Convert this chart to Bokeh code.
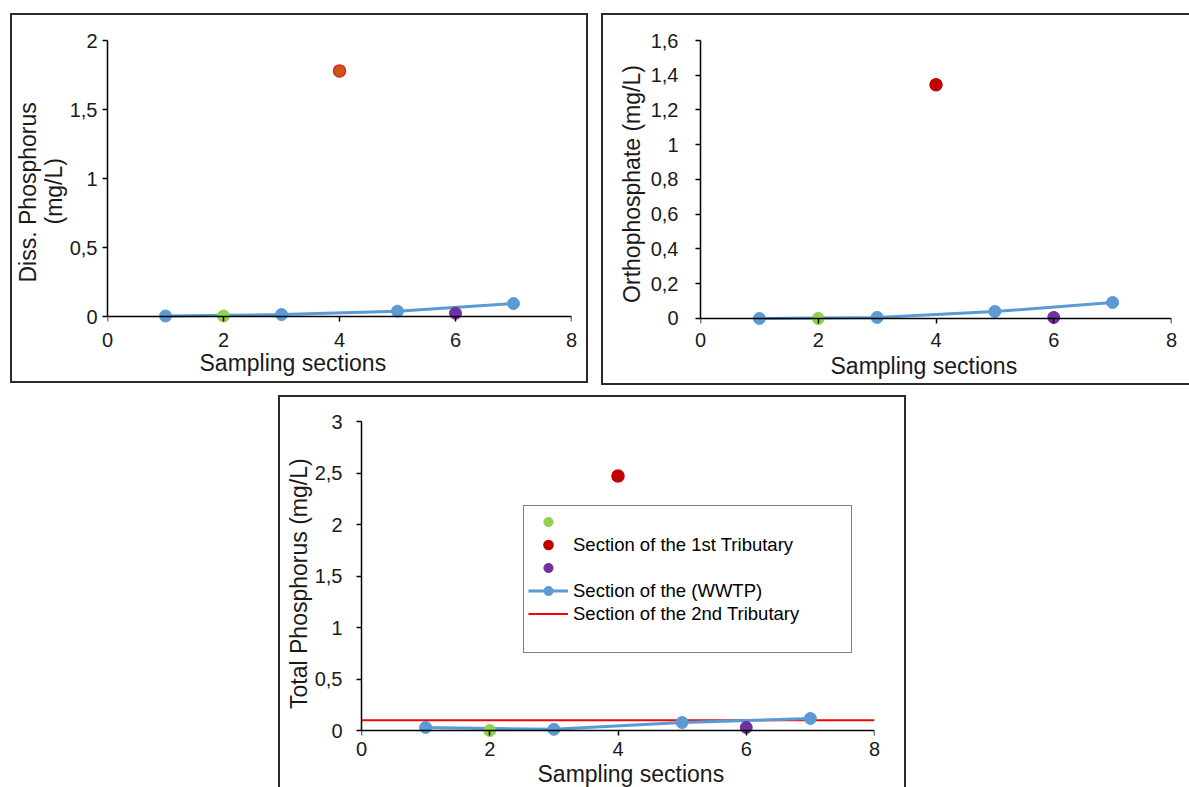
from bokeh.plotting import figure
from bokeh.models import (Range1d, FixedTicker, CustomJSTickFormatter, Legend, LegendItem,
                          LinearAxis, Title)
from bokeh.layouts import column, row
from bokeh.embed import file_html
from bokeh.resources import INLINE

# ---------------- data ----------------
x_ticks = [0, 2, 4, 6, 8]
main_sections = [1, 3, 5, 7]          # blue series (main river sections)
section_green = [2]
section_red = [4]
section_purple = [6]

diss_main = [0.005, 0.015, 0.04, 0.095]
diss_green = [0.005]
diss_red = [1.78]
diss_purple = [0.025]
diss_ticks = [0, 0.5, 1, 1.5, 2]

ortho_main = [0.0, 0.006, 0.04, 0.092]
ortho_green = [0.0]
ortho_red = [1.345]
ortho_purple = [0.006]
ortho_ticks = [0, 0.2, 0.4, 0.6, 0.8, 1.0, 1.2, 1.4, 1.6]

total_main = [0.03, 0.012, 0.078, 0.117]
total_green = [0.0]
total_red = [2.47]
total_purple = [0.03]
total_ticks = [0, 0.5, 1, 1.5, 2, 2.5, 3]
limit_x = [0, 8]
total_limit = [0.1, 0.1]

legend_texts = ["Section of the 1st Tributary", "Section of the (WWTP)", "Section of the 2nd Tributary"]

FONT = "Liberation Sans"
TXT = "#1a1a1a"
BLUE = "#5B9BD5"
GREEN = "#92D050"
PURPLE = "#7030A0"


def fmt():
    return CustomJSTickFormatter(code="return String(Math.round(tick*10)/10).replace('.', ',');")


def style_axis(ax):
    ax.axis_line_color = "black"
    ax.axis_line_width = 1.5
    ax.major_tick_line_color = "black"
    ax.major_tick_line_width = 1.5
    ax.major_tick_out = 5
    ax.major_tick_in = 0
    ax.minor_tick_line_color = None
    ax.major_label_text_font = FONT
    ax.major_label_text_font_size = "20px"
    ax.major_label_text_color = TXT
    ax.axis_label_text_font = FONT
    ax.axis_label_text_font_size = "23px"
    ax.axis_label_text_font_style = "normal"
    ax.axis_label_text_color = TXT
    ax.formatter = fmt()


def title(text, align, offset, standoff):
    return Title(text=text, align=align, offset=offset, standoff=standoff, text_font=FONT,
                 text_font_size="23px", text_font_style="normal", text_color=TXT)


def make_panel(w, h, bl, br, bt, bb, y_end, y_start, yticks, ylabel, y_standoff, y_lab_standoff,
               x_lab_standoff, title_offset, title_standoff, shadow):
    p = figure(width=w, height=h, x_range=Range1d(0, 8), y_range=Range1d(y_start, y_end),
               output_backend="svg", toolbar_location=None,
               min_border_left=bl, min_border_right=br, min_border_top=bt, min_border_bottom=bb)
    p.styles = {"box-shadow": shadow, "background-color": "white"}
    p.border_fill_color = None
    p.background_fill_color = None
    p.outline_line_color = None
    p.xgrid.visible = False
    p.ygrid.visible = False
    style_axis(p.xaxis[0])
    style_axis(p.yaxis[0])
    # x axis line + ticks at y = 0 (inside the frame)
    p.xaxis.ticker = FixedTicker(ticks=x_ticks)
    p.xaxis.fixed_location = 0
    p.xaxis.bounds = (0, 8)
    p.xaxis.major_label_text_alpha = 0
    # x tick labels at the frame bottom
    xl = LinearAxis(ticker=FixedTicker(ticks=x_ticks))
    style_axis(xl)
    xl.axis_line_color = None
    xl.major_tick_line_color = None
    xl.major_tick_out = 0
    xl.major_label_standoff = x_lab_standoff
    p.add_layout(xl, "below")
    p.add_layout(title("Sampling sections", "left", title_offset, title_standoff), "below")
    p.yaxis.ticker = FixedTicker(ticks=yticks)
    p.yaxis.bounds = (0, y_end)
    if ylabel:
        p.yaxis.axis_label = ylabel
        p.yaxis.axis_label_standoff = y_standoff
    p.yaxis.major_label_standoff = y_lab_standoff
    return p


def add_series(p, main_y, green_y, red_y, purple_y, red_fill, red_line):
    line_r = p.line(main_sections, main_y, line_color=BLUE, line_width=3)
    dots_r = p.scatter(main_sections, main_y, size=12, fill_color=BLUE, line_color=BLUE)
    g = p.scatter(section_green, green_y, size=12, fill_color=GREEN, line_color=GREEN)
    r = p.scatter(section_red, red_y, size=12, fill_color=red_fill, line_color=red_line, line_width=1.5)
    pu = p.scatter(section_purple, purple_y, size=12, fill_color=PURPLE, line_color=PURPLE)
    return line_r, dots_r, g, r, pu


ALL = "inset 0 0 0 2px #2b2b2b"
NO_RIGHT = "inset 2px 0 0 #2b2b2b, inset 0 2px 0 #2b2b2b, inset 0 -2px 0 #2b2b2b"
NO_BOTTOM = "inset 2px 0 0 #2b2b2b, inset 0 2px 0 #2b2b2b, inset -2px 0 0 #2b2b2b"

# panel 1 (two-line y title built from two left titles)
p1 = make_panel(578, 370, 97, 17, 21, 58, 2.0, -0.064, diss_ticks,
                None, 0, 5, 7, 92, -4, ALL)
p1.add_layout(title("(mg/L)", "left", 101, 0), "left")
p1.add_layout(title("Diss. Phosphorus", "left", 43, -5), "left")
add_series(p1, diss_main, diss_green, diss_red, diss_purple, "#C8581A", "#E0281C")
p1.margin = (13, 0, 0, 10)

# panel 2
p2 = make_panel(588, 372, 99, 18, 27, 57, 1.6, -0.052, ortho_ticks,
                "Orthophosphate (mg/L)", 3, 17, 5, 130, 3, NO_RIGHT)
add_series(p2, ortho_main, ortho_green, ortho_red, ortho_purple, "#C00000", "#C00000")
p2.margin = (13, 0, 0, 13)

# panel 3
p3 = make_panel(628, 392, 83, 32, 26, 48, 3.0, -0.087, total_ticks,
                "Total Phosphorus  (mg/L)", 0, 14, 2, 176, 0, NO_BOTTOM)
limit_r = p3.line(limit_x, total_limit, line_color="#FF0000", line_width=2)
line_r, dots_r, g3, r3, pu3 = add_series(p3, total_main, total_green, total_red, total_purple,
                                         "#C00000", "#C00000")
p3.margin = (10, 0, 0, 278)
spacer_r = p3.scatter(main_sections, total_main, fill_alpha=0, line_alpha=0)

legend = Legend(items=[
    LegendItem(label=" ", renderers=[g3]),
    LegendItem(label=legend_texts[0], renderers=[r3]),
    LegendItem(label=" ", renderers=[pu3]),
    LegendItem(label=legend_texts[1], renderers=[line_r, dots_r]),
    LegendItem(label=legend_texts[2], renderers=[limit_r]),
    LegendItem(label=" ", renderers=[spacer_r]),
], location=(162, 86))
legend.margin = 0
legend.padding = 4
legend.spacing = 0
legend.glyph_width = 40
legend.glyph_height = 23
legend.label_height = 10
legend.label_width = 274
legend.label_standoff = 5
legend.border_line_color = "black"
legend.border_line_width = 1.2
legend.background_fill_color = "white"
legend.background_fill_alpha = 1
legend.label_text_font = FONT
legend.label_text_font_size = "18.5px"
legend.label_text_color = "black"
p3.add_layout(legend)

layout = column(row(p1, p2), p3)
open("out.html", "w").write(file_html(layout, INLINE))
